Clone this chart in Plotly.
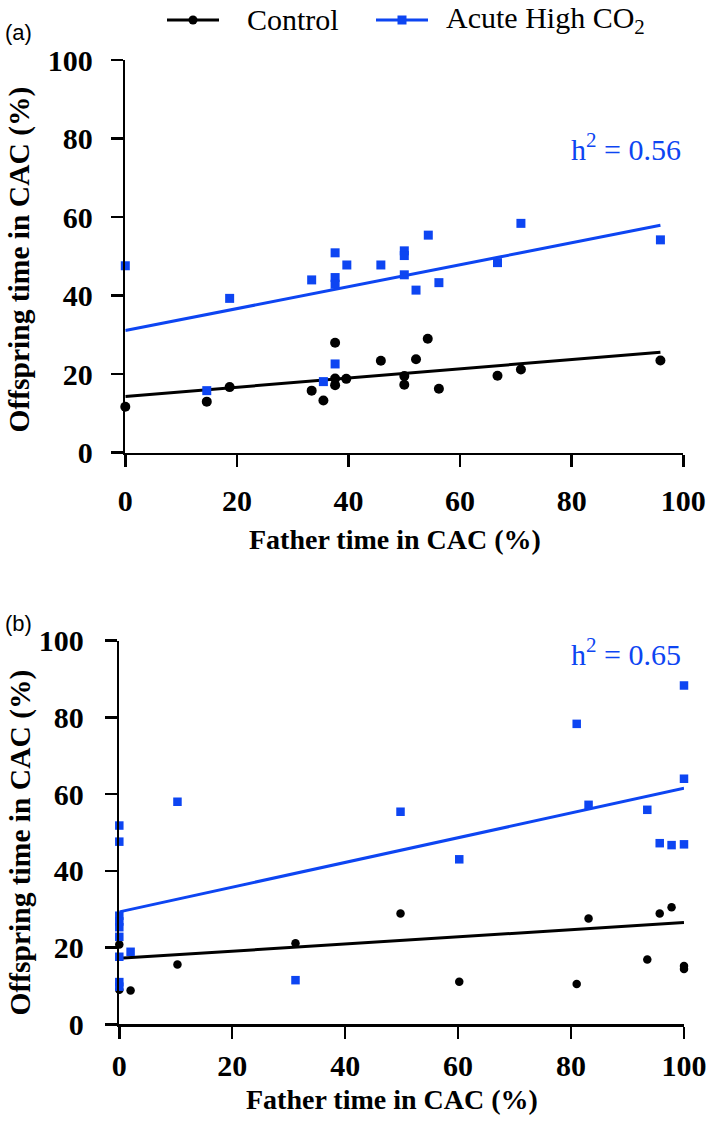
import plotly.graph_objects as go

W, H = 709, 1123

# ---------------- data ----------------
ticks = [0, 20, 40, 60, 80, 100]

# Panel (a)
a_ctrl_x = [0, 14.6, 18.7, 33.4, 35.5, 37.6, 37.6, 37.6, 39.6, 45.8, 50.0, 50.0, 52.1, 54.2, 56.2, 66.7, 70.9, 95.9]
a_ctrl_y = [11.7, 13.0, 16.7, 15.8, 13.3, 28.0, 18.9, 17.2, 18.8, 23.4, 19.5, 17.3, 23.8, 29.0, 16.3, 19.6, 21.2, 23.5]
a_co2_x = [0, 14.6, 18.7, 33.4, 35.5, 37.6, 37.6, 37.6, 37.6, 39.7, 45.8, 50.0, 50.0, 50.0, 52.1, 54.3, 56.2, 66.7, 70.9, 95.9]
a_co2_y = [47.6, 15.8, 39.3, 44.0, 18.1, 50.9, 44.6, 42.9, 22.6, 47.8, 47.8, 51.4, 50.2, 45.3, 41.4, 55.4, 43.3, 48.4, 58.4, 54.2]
a_fit_x = [0, 95.9]
a_ctrl_fit = [14.3, 25.6]
a_co2_fit = [31.1, 57.9]
a_h2 = "h<sup>2</sup> = 0.56"

# Panel (b)
b_ctrl_x = [0, 0, 2.0, 10.3, 31.2, 49.8, 60.2, 81.0, 83.1, 93.5, 95.7, 97.8, 100, 100]
b_ctrl_y = [20.8, 9.0, 8.8, 15.6, 21.1, 28.9, 11.1, 10.5, 27.6, 16.9, 28.9, 30.5, 15.2, 14.4]
b_co2_x = [0, 0, 0, 0, 0, 0, 0, 0, 0, 2.0, 10.3, 31.2, 49.8, 60.2, 81.0, 83.1, 93.5, 95.7, 97.8, 100, 100, 100]
b_co2_y = [51.8, 47.6, 28.3, 26.8, 25.3, 22.8, 17.6, 11.0, 9.8, 18.9, 58.0, 11.5, 55.4, 43.0, 78.3, 57.2, 55.9, 47.2, 46.7, 46.9, 88.3, 64.0]
b_fit_x = [0, 100]
b_ctrl_fit = [17.2, 26.5]
b_co2_fit = [29.3, 61.5]
b_h2 = "h<sup>2</sup> = 0.65"

series_names = ["Control", "Acute High CO<sub>2</sub>"]
x_title = "Father time in CAC (%)"
y_title = "Offspring time in CAC (%)"

# ---------------- style ----------------
BLACK = "#000000"
BLUE = "#0D45F2"
SERIF = "Liberation Serif"


def px(x):
    return x / W


def py(y):
    return 1 - y / H


fig = go.Figure()


def add_panel(xa, ya, cx, cy, bx, by, fx, fc, fb, csize, bsize):
    fig.add_trace(go.Scatter(x=fx, y=fc, mode="lines", line=dict(color=BLACK, width=3),
                             xaxis=xa, yaxis=ya, showlegend=False, cliponaxis=False, hoverinfo="skip"))
    fig.add_trace(go.Scatter(x=fx, y=fb, mode="lines", line=dict(color=BLUE, width=3),
                             xaxis=xa, yaxis=ya, showlegend=False, cliponaxis=False, hoverinfo="skip"))
    fig.add_trace(go.Scatter(x=cx, y=cy, mode="markers", name=series_names[0],
                             marker=dict(symbol="circle", size=csize, color=BLACK, line=dict(width=0)),
                             xaxis=xa, yaxis=ya, showlegend=False, cliponaxis=False))
    fig.add_trace(go.Scatter(x=bx, y=by, mode="markers", name=series_names[1],
                             marker=dict(symbol="square", size=bsize, color=BLUE, line=dict(width=0)),
                             xaxis=xa, yaxis=ya, showlegend=False, cliponaxis=False))


add_panel("x", "y", a_ctrl_x, a_ctrl_y, a_co2_x, a_co2_y, a_fit_x, a_ctrl_fit, a_co2_fit, 10, 9)
add_panel("x2", "y2", b_ctrl_x, b_ctrl_y, b_co2_x, b_co2_y, b_fit_x, b_ctrl_fit, b_co2_fit, 8.5, 8.5)

tickfont = dict(family=SERIF, size=30, color=BLACK, weight="bold")
common = dict(range=[0, 100], showgrid=False, zeroline=False, showline=True, linecolor=BLACK,
              linewidth=2.5, ticks="outside", ticklen=12, tickwidth=2.5, tickcolor=BLACK,
              tickmode="array", tickvals=ticks, ticktext=[str(t) for t in ticks],
              tickfont=tickfont, automargin=False, fixedrange=True)

fig.update_layout(
    width=W, height=H, autosize=False,
    margin=dict(l=0, r=0, t=0, b=0),
    paper_bgcolor="white", plot_bgcolor="white",
    template="none",
    showlegend=False,
    xaxis=dict(domain=[px(125.3), px(683.3)], anchor="y", ticklabelstandoff=8, **common),
    yaxis=dict(domain=[py(452.7), py(60)], anchor="x", ticklabelstandoff=12, **common),
    xaxis2=dict(domain=[px(119.3), px(684)], anchor="y2", ticklabelstandoff=1, **common),
    yaxis2=dict(domain=[py(1024.3), py(640.6)], anchor="x2", ticklabelstandoff=15, **common),
)

# ---------------- legend (key lines + markers + text) ----------------
LY = 20
shapes = [
    dict(type="line", xref="paper", yref="paper", x0=px(167), x1=px(219), y0=py(LY), y1=py(LY),
         line=dict(color=BLACK, width=3)),
    dict(type="circle", xref="paper", yref="paper", x0=px(193 - 4.5), x1=px(193 + 4.5),
         y0=py(LY + 4.5), y1=py(LY - 4.5), fillcolor=BLACK, line=dict(width=0)),
    dict(type="line", xref="paper", yref="paper", x0=px(376), x1=px(428), y0=py(LY), y1=py(LY),
         line=dict(color=BLUE, width=3)),
    dict(type="rect", xref="paper", yref="paper", x0=px(402 - 4.5), x1=px(402 + 4.5),
         y0=py(LY + 4.5), y1=py(LY - 4.5), fillcolor=BLUE, line=dict(width=0)),
]
fig.update_layout(shapes=shapes)

ann = []
ann.append(dict(text=series_names[0], x=px(245), y=py(LY), xref="paper", yref="paper", showarrow=False,
                font=dict(family=SERIF, size=30, color=BLACK), xanchor="left", yanchor="middle"))
ann.append(dict(text=series_names[1], x=px(444), y=py(LY), xref="paper", yref="paper", showarrow=False,
                font=dict(family=SERIF, size=30, color=BLACK), xanchor="left", yanchor="middle"))
# axis titles
ann.append(dict(text=x_title, x=px(395), y=py(539), xref="paper", yref="paper", showarrow=False,
                font=dict(family=SERIF, size=28, color=BLACK, weight="bold"), xanchor="center", yanchor="middle"))
ann.append(dict(text=x_title, x=px(392), y=py(1099), xref="paper", yref="paper", showarrow=False,
                font=dict(family=SERIF, size=28, color=BLACK, weight="bold"), xanchor="center", yanchor="middle"))
ann.append(dict(text=y_title, x=px(18.5), y=py(260), xref="paper", yref="paper", showarrow=False, textangle=-90,
                font=dict(family=SERIF, size=29.5, color=BLACK, weight="bold"), xanchor="center", yanchor="middle"))
ann.append(dict(text=y_title, x=px(19.5), y=py(843), xref="paper", yref="paper", showarrow=False, textangle=-90,
                font=dict(family=SERIF, size=29.5, color=BLACK, weight="bold"), xanchor="center", yanchor="middle"))
# heritability labels
ann.append(dict(text=a_h2, x=px(683), y=py(147), xref="paper", yref="paper", showarrow=False,
                font=dict(family=SERIF, size=30, color=BLUE), xanchor="right", yanchor="middle"))
ann.append(dict(text=b_h2, x=px(683), y=py(652), xref="paper", yref="paper", showarrow=False,
                font=dict(family=SERIF, size=30, color=BLUE), xanchor="right", yanchor="middle"))
# panel letters
ann.append(dict(text="(a)", x=px(3), y=py(33), xref="paper", yref="paper", showarrow=False,
                font=dict(family="Liberation Sans", size=22, color=BLACK), xanchor="left", yanchor="middle"))
ann.append(dict(text="(b)", x=px(3), y=py(623), xref="paper", yref="paper", showarrow=False,
                font=dict(family="Liberation Sans", size=22, color=BLACK), xanchor="left", yanchor="middle"))
fig.update_layout(annotations=ann)

fig.write_html("out.html",
               config={"displayModeBar": False, "staticPlot": True},
               post_script="document.body.style.margin='0';document.body.style.overflow='hidden';")
